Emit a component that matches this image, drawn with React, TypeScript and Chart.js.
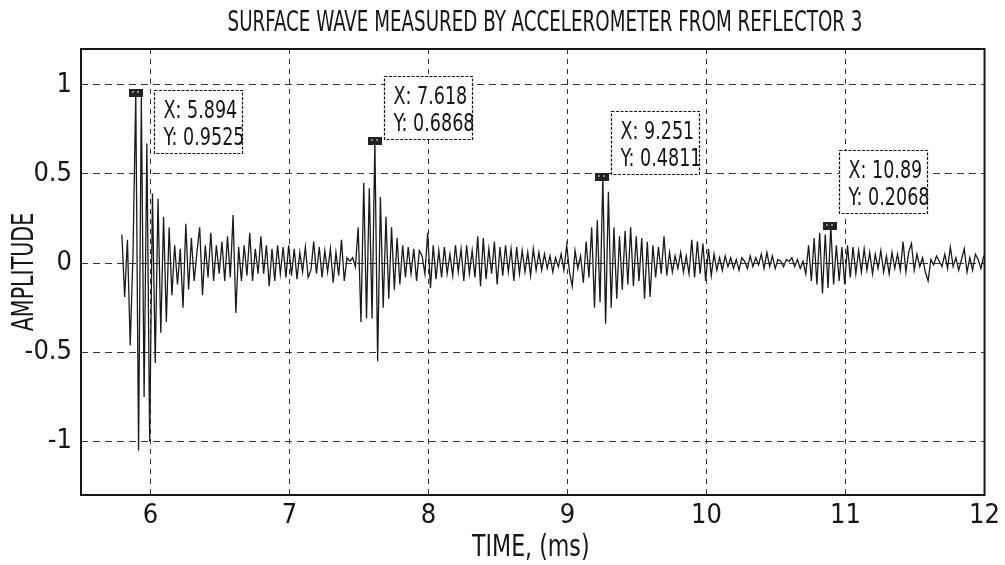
import React, { useEffect, useRef } from "react";
import { Chart, registerables } from "chart.js";

Chart.register(...registerables);

// ---- data ----
const TITLE = "SURFACE WAVE MEASURED BY ACCELEROMETER FROM REFLECTOR 3";
const X_LABEL = "TIME, (ms)";
const Y_LABEL = "AMPLITUDE";
const X_TICKS = [6, 7, 8, 9, 10, 11, 12];
const Y_TICKS = [-1, -0.5, 0, 0.5, 1];
const X_MIN = 5.5;
const X_MAX = 12;
const Y_MIN = -1.3;
const Y_MAX = 1.2;

// sampled signal: first sample time and sampling interval (ms)
const SAMPLE_START = 5.794;
const SAMPLE_STEP = 0.02;
const AMPLITUDE = [
  0.16, -0.19, 0.13, -0.46, 0.05, 0.9525, -1.05, 0.93, -0.75, 0.67,
  -1.0, 0.39, -0.56, 0.36, -0.39, 0.26, -0.33, 0.2, -0.18, 0.1,
  -0.12, 0.08, -0.25, 0.22, -0.15, 0.14, -0.1, 0.06, 0.2, -0.18,
  0.1, -0.08, 0.17, -0.1, 0.1, -0.06, 0.12, -0.1, 0.15, -0.08,
  0.27, -0.28, 0.09, -0.1, 0.1, -0.07, 0.17, -0.1, 0.08, -0.06,
  0.15, -0.06, 0.1, -0.13, 0.08, -0.1, 0.1, -0.06, 0.09, -0.08,
  0.1, -0.07, 0.08, -0.09, 0.06, -0.05, 0.09, -0.08, -0.04, 0.12,
  -0.06, 0.09, -0.08, 0.07, -0.05, 0.08, -0.11, 0.06, -0.07, 0.13,
  -0.1, 0.03, 0.01, 0.03, -0.02, 0.2, -0.33, 0.45, -0.31, 0.42,
  -0.31, 0.6868, -0.55, 0.37, -0.25, 0.26, -0.2, 0.2, -0.15, 0.14,
  -0.12, 0.1, -0.08, 0.09, -0.06, 0.08, -0.1, 0.07, 0.04, -0.06,
  0.17, -0.14, 0.1, -0.09, 0.07, -0.08, 0.09, -0.06, 0.05, -0.07,
  0.1, -0.05, 0.08, -0.1, 0.1, -0.06, 0.07, -0.08, 0.15, -0.13,
  0.14, -0.09, 0.08, -0.06, 0.12, -0.12, 0.09, -0.07, 0.1, -0.05,
  0.08, -0.1, 0.09, -0.06, 0.07, -0.05, 0.06, -0.07, 0.08, -0.04,
  0.06, -0.04, 0.05, -0.03, 0.04, -0.05, 0.03, -0.02, 0.05, -0.04,
  0.1, -0.05, -0.13, 0.07, -0.03, 0.04, -0.11, 0.12, -0.08, 0.2,
  -0.25, 0.24, -0.22, 0.4811, -0.34, 0.4, -0.25, 0.2, -0.2, 0.15,
  -0.15, 0.18, -0.12, 0.2, -0.13, 0.15, -0.1, 0.14, -0.2, 0.12,
  -0.19, 0.1, -0.08, 0.09, -0.06, 0.15, -0.07, 0.06, -0.05, 0.04,
  -0.03, 0.06, -0.05, 0.04, -0.06, 0.13, -0.08, 0.12, -0.06, 0.11,
  -0.1, 0.08, -0.07, 0.05, -0.04, 0.03, -0.04, 0.04, -0.02, 0.03,
  -0.03, 0.02, -0.04, 0.03, 0.01, -0.03, 0.04, -0.02, 0.03, -0.01,
  0.05, -0.03, 0.06, -0.02, 0.04, -0.03, 0.02, 0.01, -0.02, 0.02,
  0.01, 0.03, -0.02, 0.02, -0.03, 0.01, -0.06, 0.1, -0.1, 0.14,
  -0.12, 0.17, -0.17, 0.16, -0.14, 0.2068, -0.12, 0.1, -0.1, 0.09,
  -0.12, 0.1, -0.08, 0.09, -0.06, 0.07, -0.05, 0.08, -0.04, 0.06,
  -0.06, 0.05, -0.03, 0.07, -0.05, 0.04, -0.06, 0.06, -0.03, 0.05,
  -0.04, 0.12, -0.05, 0.06, 0.11, -0.04, 0.05, -0.02, 0.03, -0.05,
  -0.1, 0.02, -0.01, 0.04, 0.01, -0.02, 0.05, -0.03, 0.09, -0.02,
  0.03, -0.04, 0.02, 0.08, -0.05, 0.03, -0.04, 0.05, 0.02, -0.03, 0.04,
];

// data tips
const TIP_X = [5.894, 7.618, 9.251, 10.89];
const TIP_Y = [0.9525, 0.6868, 0.4811, 0.2068];

// ---- layout / style ----
const FONT = "'DejaVu Sans Condensed', 'Liberation Sans Narrow', sans-serif";
const INK = "#161616";
const TIP_BOX_OFFSETS = [
  [18, -3],
  [9, -65],
  [9, -66],
  [9, -76],
];
const TIP_BOX_W = 88;
const TIP_BOX_H = 63;

function squeezedText(ctx: any, text: string, x: number, y: number, size: number, sx: number, rot = 0) {
  ctx.save();
  ctx.translate(x, y);
  if (rot) ctx.rotate(rot);
  ctx.scale(sx, 1);
  ctx.font = `${size}px ${FONT}`;
  ctx.fillStyle = INK;
  ctx.textAlign = "center";
  ctx.textBaseline = "middle";
  ctx.fillText(text, 0, 0);
  ctx.restore();
}

const decorPlugin = {
  id: "decor",
  afterDraw(chart: any) {
    const { ctx, chartArea, scales } = chart;
    ctx.save();
    // titles
    squeezedText(ctx, TITLE, 545, 24, 28, 0.726);
    squeezedText(ctx, X_LABEL, (chartArea.left + chartArea.right) / 2 - 2, 548, 30, 0.82);
    squeezedText(ctx, Y_LABEL, 25, (chartArea.top + chartArea.bottom) / 2, 31, 0.74, -Math.PI / 2);

    // plot frame
    ctx.strokeStyle = INK;
    ctx.lineWidth = 2;
    ctx.setLineDash([]);
    ctx.strokeRect(chartArea.left, chartArea.top, chartArea.right - chartArea.left, chartArea.bottom - chartArea.top);

    for (let i = 0; i < TIP_X.length; i++) {
      const px = scales.x.getPixelForValue(TIP_X[i]);
      const py = scales.y.getPixelForValue(TIP_Y[i]);
      // marker
      ctx.fillStyle = "#222";
      ctx.fillRect(Math.round(px - 7), Math.round(py - 4), 14, 8);
      ctx.fillStyle = "#888";
      ctx.fillRect(Math.round(px - 4), Math.round(py - 2), 2, 2);
      ctx.fillRect(Math.round(px + 1), Math.round(py - 2), 2, 2);
      // box
      const bx = Math.round(px + TIP_BOX_OFFSETS[i][0]) + 0.5;
      const by = Math.round(py + TIP_BOX_OFFSETS[i][1]) + 0.5;
      ctx.fillStyle = "#fff";
      ctx.fillRect(bx, by, TIP_BOX_W, TIP_BOX_H);
      ctx.strokeStyle = INK;
      ctx.lineWidth = 1.2;
      ctx.setLineDash([3, 1.5]);
      ctx.strokeRect(bx, by, TIP_BOX_W, TIP_BOX_H);
      ctx.setLineDash([]);
      ctx.fillStyle = INK;
      ctx.font = `25px ${FONT}`;
      ctx.textAlign = "left";
      ctx.textBaseline = "alphabetic";
      const lines = [`X: ${TIP_X[i]}`, `Y: ${TIP_Y[i]}`];
      lines.forEach((t, k) => {
        ctx.save();
        ctx.translate(bx + 9, by + 27 + k * 27);
        ctx.scale(0.78, 1);
        ctx.fillText(t, 0, 0);
        ctx.restore();
      });
    }
    ctx.restore();
  },
};

export default function App() {
  const ref = useRef<HTMLCanvasElement | null>(null);

  useEffect(() => {
    document.body.style.margin = "0";
    const canvas = ref.current;
    if (!canvas) return;
    const points = AMPLITUDE.map((v, i) => ({ x: SAMPLE_START + i * SAMPLE_STEP, y: v }));
    const chart = new Chart(canvas, {
      type: "line",
      data: {
        datasets: [
          {
            data: points,
            borderColor: "#1a1a1a",
            borderWidth: 1.3,
            pointRadius: 0,
            tension: 0,
            fill: false,
          },
        ],
      },
      options: {
        animation: false,
        responsive: false,
        devicePixelRatio: 1,
        layout: { padding: { left: 0, right: 16, top: 49, bottom: 0 } },
        plugins: {
          legend: { display: false },
          tooltip: { enabled: false },
          title: { display: false },
        },
        scales: {
          x: {
            type: "linear",
            min: X_MIN,
            max: X_MAX,
            afterBuildTicks: (axis: any) => {
              axis.ticks = X_TICKS.map((v) => ({ value: v }));
            },
            afterFit: (axis: any) => {
              axis.height = 70;
            },
            ticks: {
              color: INK,
              font: { family: FONT, size: 27 },
              padding: 5,
              maxRotation: 0,
              callback: (v: any) => `${v}`,
            },
            grid: { color: "#333", lineWidth: 1, drawTicks: false },
            border: { display: false, dash: [5, 5] },
          },
          y: {
            type: "linear",
            min: Y_MIN,
            max: Y_MAX,
            afterBuildTicks: (axis: any) => {
              axis.ticks = Y_TICKS.map((v) => ({ value: v }));
            },
            afterFit: (axis: any) => {
              axis.width = 81;
            },
            ticks: {
              color: INK,
              font: { family: FONT, size: 27 },
              padding: 9,
              callback: (v: any) => `${v}`,
            },
            grid: { color: "#333", lineWidth: 1, drawTicks: false },
            border: { display: false, dash: [7, 5] },
          },
        },
      },
      plugins: [decorPlugin],
    } as any);
    return () => chart.destroy();
  }, []);

  return (
    <div style={{ width: 1005, height: 565, background: "#fff" }}>
      <canvas ref={ref} width={1005} height={565} />
    </div>
  );
}
